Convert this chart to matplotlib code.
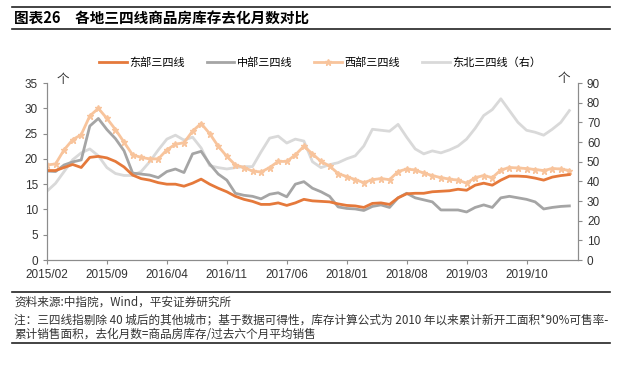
import matplotlib.pyplot as plt
import numpy as np

plt.rcParams['font.family'] = ['Liberation Sans', 'Noto Sans CJK SC', 'DejaVu Sans']

# monthly data, 2015/02 - 2020/03
months = ['2015/02', '2015/09', '2016/04', '2016/11', '2017/06',
          '2018/01', '2018/08', '2019/03', '2019/10']

east = [17.7, 17.7, 18.3, 18.9, 18.3, 20.3, 20.5, 20.2, 19.5, 18.4,
        16.8, 16.1, 15.8, 15.3, 15.0, 15.0, 14.6, 15.2, 16.0, 15.0,
        14.2, 13.5, 12.6, 12.0, 11.6, 11.0, 11.0, 11.3, 10.8, 11.3,
        12.0, 11.7, 11.6, 11.5, 11.1, 10.8, 10.7, 10.4, 11.2, 11.3,
        11.0, 12.3, 13.1, 13.2, 13.2, 13.5, 13.6, 13.7, 14.0, 13.8,
        14.8, 15.2, 14.8, 15.8, 16.6, 16.6, 16.5, 16.2, 15.8, 16.4,
        16.7, 16.9]

central = [17.6, 17.5, 18.8, 19.4, 19.8, 26.5, 28.0, 25.8, 24.0, 21.6,
           17.2, 17.0, 16.8, 16.3, 17.5, 18.0, 17.3, 21.0, 21.5, 19.0,
           17.0, 15.8, 13.2, 12.8, 12.6, 12.1, 13.0, 13.3, 12.5, 15.0,
           15.5, 14.2, 13.5, 12.6, 10.5, 10.2, 10.1, 9.8, 10.6, 10.9,
           10.4, 12.3, 13.2, 12.3, 11.9, 11.5, 9.9, 9.9, 9.9, 9.5,
           10.4, 10.9, 10.4, 12.3, 12.6, 12.3, 12.0, 11.5, 10.1, 10.4,
           10.6, 10.7]

west = [18.8, 19.0, 21.8, 23.8, 24.8, 28.5, 30.0, 28.0, 25.8, 23.3,
        20.8, 20.3, 20.0, 20.0, 21.8, 22.9, 23.2, 25.5, 27.0, 25.0,
        22.5, 20.5, 18.8, 18.3, 17.6, 17.4, 18.3, 19.5, 19.5, 20.8,
        22.5, 21.0, 19.5, 18.6, 17.1, 16.5, 15.9, 15.3, 15.9, 16.1,
        15.9, 17.5, 18.0, 17.8, 17.2, 16.7, 16.3, 16.0, 15.8, 15.2,
        16.3, 16.7, 16.3, 17.8, 18.3, 18.2, 18.1, 17.9, 17.7, 18.1,
        18.0, 17.7]

northeast = [35, 39, 45, 51, 54.5, 56.5, 53, 47, 44, 43,
             43, 45, 50, 56, 61.5, 63.5, 61, 62.5, 57, 48,
             47, 46.3, 47, 47.5, 47.5, 55, 62, 63, 59.5, 61.5,
             60.5, 50, 47, 48.5, 49.5, 51.5, 53, 58, 66.5, 66,
             65.5, 69, 62.5, 56.5, 54, 55.5, 54.5, 56, 58, 61.5,
             67, 73.5, 76.5, 82, 76, 70, 66, 65, 63.5, 66.5,
             70, 76]

x = np.arange(len(east))
cjk = ['Noto Sans CJK SC']

fig = plt.figure(figsize=(6.4, 3.66), dpi=100)
ax = fig.add_axes([0.0734, 0.2896, 0.8296, 0.4834])
ax2 = ax.twinx()

l4, = ax2.plot(x, northeast, color='#d9d9d9', lw=2, label='东北三四线（右）')
l2, = ax.plot(x, central, color='#a5a5a5', lw=2, label='中部三四线')
l3, = ax.plot(x, west, color='#f8c49c', lw=2, marker='*', ms=4.5,
              mec='#f8c49c', label='西部三四线')
l1, = ax.plot(x, east, color='#e5793b', lw=2, label='东部三四线')
ax.set_zorder(ax2.get_zorder() + 1)
ax.patch.set_visible(False)

ax.set_xlim(0, 62)
ax.set_ylim(0, 35)
ax2.set_ylim(0, 90)
ax.set_yticks(np.arange(0, 36, 5))
ax2.set_yticks(np.arange(0, 91, 10))
ax.set_xticks(np.arange(0, 57, 7))
ax.set_xticklabels(months)

for a in (ax, ax2):
    a.spines['top'].set_visible(False)
    for s in ('left', 'right', 'bottom'):
        a.spines[s].set_color('#8c8c8c')
    a.tick_params(colors='#8c8c8c', labelcolor='#333333', labelsize=8.5,
                  length=3, direction='out')

ax.text(1.8, 35.8, '个', fontsize=9, color='#333333', va='center',
        ha='center', family=cjk)
ax2.text(60.4, 92.1, '个', fontsize=9, color='#333333', va='center',
         ha='center', family=cjk)

fig.legend(handles=[l1, l2, l3, l4], loc='center', ncol=4,
           bbox_to_anchor=(0.5, 0.828), frameon=False,
           handlelength=2.5, handletextpad=0.2, columnspacing=2.0,
           prop={'family': cjk, 'size': 8})

# header and footer rules
for yy in (359, 337.5, 74, 23):
    fig.add_artist(plt.Line2D([12 / 640, 610 / 640], [yy / 366, yy / 366],
                              color='#222222', lw=1.2))

fig.text(14 / 640, 347 / 366, '图表26　各地三四线商品房库存去化月数对比',
         fontsize=10.5, fontweight='bold', va='center', family=cjk)
fig.text(14 / 640, 64 / 366, '资料来源:中指院，Wind，平安证券研究所',
         fontsize=8.4, va='center', color='#333333', family=cjk)
fig.text(14 / 640, 46 / 366,
         '注：三四线指剔除 40 城后的其他城市；基于数据可得性，库存计算公式为 2010 年以来累计新开工面积*90%可售率-',
         fontsize=8.4, va='center', color='#333333', family=cjk)
fig.text(14 / 640, 32 / 366, '累计销售面积，去化月数=商品房库存/过去六个月平均销售',
         fontsize=8.4, va='center', color='#333333', family=cjk)

fig.savefig('out.png', dpi=100)
